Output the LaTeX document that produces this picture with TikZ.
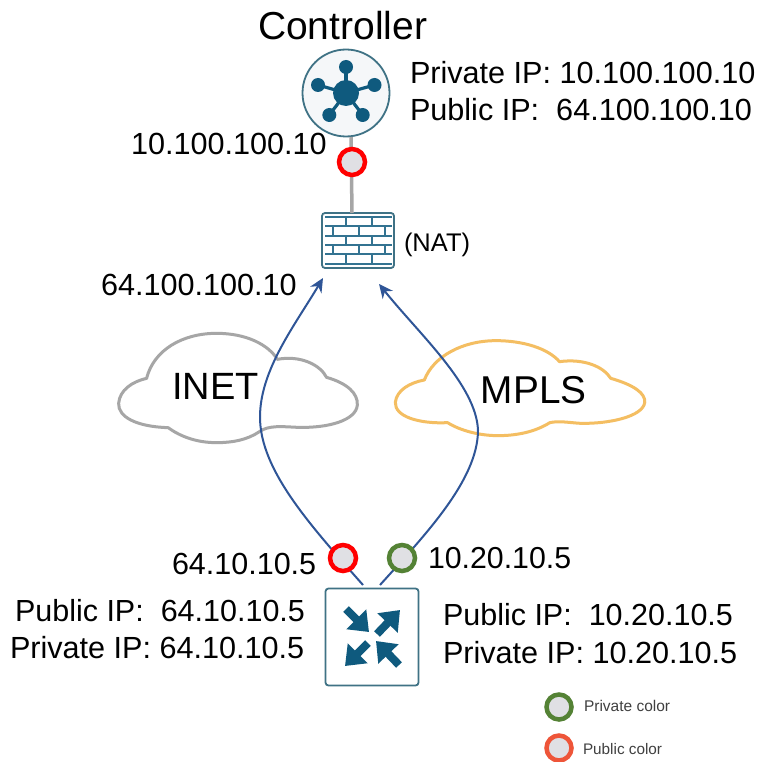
\documentclass[tikz,border=0pt]{standalone}
\usepackage{fontspec}
\setmainfont{Liberation Sans}
\usetikzlibrary{arrows.meta}
\definecolor{teal1}{HTML}{0F5A7E}
\definecolor{teal2}{HTML}{3F7285}
\definecolor{flow}{HTML}{2F5597}
\definecolor{dotfill}{HTML}{E0E0E4}
\definecolor{inetc}{HTML}{A6A6A6}
\definecolor{mplsc}{HTML}{F4BE62}
\definecolor{privc}{HTML}{548235}
\definecolor{pubc}{HTML}{FF0000}
\definecolor{legpub}{HTML}{EE5539}
\definecolor{ctrlfill}{HTML}{F5F7F9}
\newcommand{\fsz}[1]{\fontsize{#1}{#1}\selectfont}
\tikzset{
  x=1pt,y=-1pt,
  lbl/.style={anchor=base west,inner sep=0pt,outer sep=0pt,text=black},
  dotn/.style={circle,draw=#1,fill=dotfill,line width=4.5pt,minimum size=26pt,inner sep=0pt},
  legdot/.style={circle,draw=#1,fill=dotfill,line width=4.5pt,minimum size=25pt,inner sep=0pt},
  flowline/.style={draw=flow,line width=2pt},
  cloudline/.style={line width=3pt,line join=round},
  iconbox/.style={draw=teal2,fill=white,rounded corners=3pt,line width=1.8pt,inner sep=0pt},
  brick/.style={draw=teal1!85!white,line width=1.7pt},
  rarrow/.style={draw=teal1,line width=8pt,-{Triangle[length=18pt,width=27pt]}},
}
\begin{document}
\begin{tikzpicture}
\useasboundingbox (0,0) rectangle (757,762);
\fill[white] (0,0) rectangle (757,762);

% clouds
\begin{scope}[shift={(100,270)},x=0.3584pt,y=-0.3333pt]
\node[lbl,font=\fsz{38}] (inetlbl) at (201,388) {INET};
\node[lbl,font=\fsz{38.8}] (mplslbl) at (1063,402) {MPLS};
\draw[cloudline,draw=inetc] (130,325) .. controls (150,240) and (230,190) .. (325,190)
  .. controls (410,190) and (470,225) .. (495,268)
  .. controls (560,255) and (615,285) .. (632,322)
  .. controls (690,340) and (720,370) .. (718,405)
  .. controls (715,450) and (640,475) .. (550,472)
  .. controls (510,470) and (470,465) .. (445,485)
  .. controls (410,510) and (370,518) .. (325,518)
  .. controls (270,518) and (225,500) .. (190,473)
  .. controls (100,470) and (50,440) .. (52,400)
  .. controls (55,360) and (90,335) .. (130,325) -- cycle;
\draw[cloudline,draw=mplsc] (905,330) .. controls (930,260) and (1010,212) .. (1105,212)
  .. controls (1180,212) and (1250,235) .. (1282,275)
  .. controls (1350,265) and (1405,290) .. (1425,325)
  .. controls (1490,345) and (1522,370) .. (1520,397)
  .. controls (1515,440) and (1420,462) .. (1340,460)
  .. controls (1310,458) and (1280,452) .. (1255,458)
  .. controls (1215,485) and (1165,497) .. (1110,497)
  .. controls (1060,497) and (1005,482) .. (970,458)
  .. controls (890,462) and (822,440) .. (824,397)
  .. controls (828,360) and (865,338) .. (905,330) -- cycle;
\end{scope}

% nodes
\node[circle,draw=teal2,fill=ctrlfill,line width=1.8pt,minimum size=87pt,inner sep=0pt] (ctrl) at (346,93) {};
\node[iconbox,minimum width=72pt,minimum height=55pt] (nat) at (358,240.5) {};
\node[iconbox,minimum width=93pt,minimum height=97pt] (router) at (372,637) {};
\coordinate (ctrlB) at (351,137);
\coordinate (natT) at (352,213);
\draw[inetc,line width=3.5pt] (ctrlB) -- (natT);
\node[dotn=pubc] (ctrlDot) at (352,162) {};

% controller icon
\fill[teal1] (346,93) circle (13);
\foreach \px/\py in {346/67,318/85,374.5/85,329.3/115,362.7/115}{
  \draw[teal1,line width=3.2pt] (346,93) -- (\px,\py);
  \fill[teal1] (\px,\py) circle (7);
}

% firewall bricks
\foreach \yy in {216.7,226,235.7,245,254.3,264}{\draw[brick] (325,\yy) -- (391.5,\yy);}
\foreach \xx in {345.7,371.7}{
  \draw[brick] (\xx,216.7) -- (\xx,226);
  \draw[brick] (\xx,235.7) -- (\xx,245);
  \draw[brick] (\xx,254.3) -- (\xx,264);
}
\foreach \xx in {332.7,359,384.7}{
  \draw[brick] (\xx,226) -- (\xx,235.7);
  \draw[brick] (\xx,245) -- (\xx,254.3);
}

% router icon
\coordinate (a1) at (346,609);  \coordinate (a2) at (369,632);
\coordinate (b1) at (377,634);  \coordinate (b2) at (400,610);
\coordinate (c1) at (368,643);  \coordinate (c2) at (345,666);
\coordinate (d1) at (399,665);  \coordinate (d2) at (376,641);
\draw[rarrow] (a1) -- (a2);
\draw[rarrow] (b1) -- (b2);
\draw[rarrow] (c1) -- (c2);
\draw[rarrow] (d1) -- (d2);

% connectors
\coordinate (leftS) at (363,585);
\coordinate (rightS) at (380,585);
\coordinate (leftT) at (323,278);
\coordinate (rightT) at (379,284);
\draw[flowline,-{Stealth[length=14pt,width=13pt]}] (leftS) .. controls (310,525) and (260,470) .. (260,417)
  .. controls (260,370) and (295,325) .. (leftT);
\draw[flowline,-{Stealth[length=14pt,width=13pt]}] (rightS) .. controls (425,535) and (478,480) .. (478,430)
  .. controls (476,385) and (420,335) .. (rightT);
\node[dotn=pubc] (pubDot) at (343,558) {};
\node[dotn=privc] (privDot) at (402,558) {};

% labels
\node[lbl,font=\fsz{39}] (t1) at (258,40) {Controller};
\node[lbl,font=\fsz{30.6}] (t2) at (410,84) {Private IP: 10.100.100.10};
\node[lbl,font=\fsz{30.6}] (t3) at (410,121) {Public IP:\ \ 64.100.100.10};
\node[lbl,font=\fsz{30.6}] (t4) at (131,155) {10.100.100.10};
\node[lbl,font=\fsz{30.6}] (t5) at (101,295) {64.100.100.10};
\node[lbl,font=\fsz{25.5}] (t6) at (404,251) {(NAT)};
\node[lbl,font=\fsz{30.5}] (t7) at (172,574) {64.10.10.5};
\node[lbl,font=\fsz{30.3}] (t8) at (428,568) {10.20.10.5};
\node[lbl,font=\fsz{30.5}] (t9) at (15,621) {Public IP:\ \ 64.10.10.5};
\node[lbl,font=\fsz{30.6}] (t10) at (10,658) {Private IP: 64.10.10.5};
\node[lbl,font=\fsz{30.5}] (t11) at (443,625) {Public IP:\ \ 10.20.10.5};
\node[lbl,font=\fsz{30.6}] (t12) at (443,663) {Private IP: 10.20.10.5};

% legend
\node[legdot=privc] (legA) at (559,707) {};
\node[legdot=legpub] (legB) at (559,748) {};
\node[lbl,font=\fsz{15.5},text=black!75] (legAt) at (584,711) {Private color};
\node[lbl,font=\fsz{15.3},text=black!75] (legBt) at (583,754) {Public color};
\end{tikzpicture}
\end{document}
